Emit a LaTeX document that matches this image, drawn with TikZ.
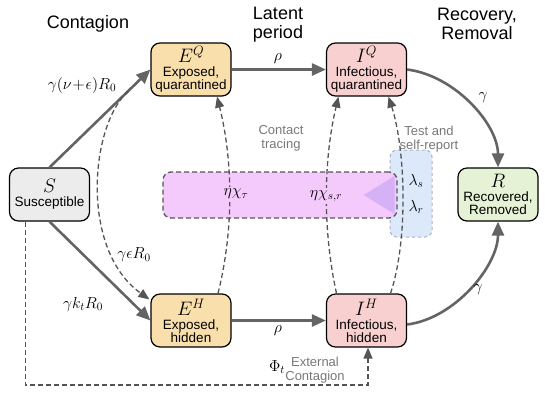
\RequirePackage{fix-cm}
\documentclass[tikz,border=0pt]{standalone}
\usepackage{fontspec}
\setmainfont{Liberation Sans}
\usetikzlibrary{arrows.meta,calc}
\definecolor{sfill}{RGB}{236,236,236}
\definecolor{efill}{RGB}{249,223,172}
\definecolor{ifill}{RGB}{248,208,208}
\definecolor{rfill}{RGB}{229,242,213}
\definecolor{ctfill}{RGB}{244,201,252}
\definecolor{trifill}{RGB}{213,177,246}
\definecolor{trfill}{RGB}{220,233,251}
\definecolor{trborder}{RGB}{170,178,190}
\definecolor{arrowgray}{RGB}{100,100,100}
\definecolor{dashgray}{RGB}{85,85,85}
\definecolor{labelgray}{RGB}{120,120,120}
\newcommand\boxmath[1]{{\fontsize{19.5}{19}\selectfont$#1$}}
\begin{document}
\begin{tikzpicture}[x=1pt,y=-1pt,
  statebox/.style={draw=black, line width=1.2pt, rounded corners=9pt,
    minimum width=80pt, minimum height=53pt, inner sep=1pt, align=center,
    font=\fontsize{13.5}{13}\selectfont},
  flow/.style={draw=arrowgray, line width=2.6pt, -{Triangle[length=14pt,width=12pt]}},
  dflow/.style={draw=dashgray, line width=1.3pt, dash pattern=on 5pt off 3pt,
    -{Triangle[length=11pt,width=9pt]}},
  title/.style={align=center, font=\fontsize{18}{19}\selectfont},
  glabel/.style={align=center, text=labelgray, font=\fontsize{13}{14.5}\selectfont},
  mlabel/.style={inner sep=1pt, font=\fontsize{16}{18}\selectfont},
]
\useasboundingbox (0,0) rectangle (545,400);

% titles
\node[title] (tC) at (88,23.5) {Contagion};
\node[title] (tL) at (278,25) {Latent\\period};
\node[title] (tR) at (477,24) {Recovery,\\Removal};

% background boxes
\node[draw=trborder, dashed, line width=1pt, fill=trfill, rounded corners=7pt,
  minimum width=42pt, minimum height=87pt, inner sep=0pt] (TR) at (411,193.5) {};
\node[draw=dashgray, line width=1.3pt, dash pattern=on 5pt off 3pt, fill=ctfill,
  rounded corners=8pt, minimum width=234pt, minimum height=46pt, inner sep=0pt] (CT) at (280,195) {};
\fill[trifill] ($(CT.east)+(-34,0)$) -- ($(CT.east)+(-3,-19)$) -- ($(CT.east)+(-3,19)$) -- cycle;

% state boxes
\node[statebox, fill=sfill] (S) at (49.5,194.5) {\boxmath{S}\\[1pt] Susceptible};
\node[statebox, fill=efill] (EQ) at (191,69.5) {\boxmath{E^{Q}}\\[1pt] Exposed,\\ quarantined};
\node[statebox, fill=ifill] (IQ) at (366.5,69.5) {\boxmath{I^{Q}}\\[1pt] Infectious,\\ quarantined};
\node[statebox, fill=efill] (EH) at (191,320.5) {\boxmath{E^{H}}\\[1pt] Exposed,\\ hidden};
\node[statebox, fill=ifill] (IH) at (366.5,320.5) {\boxmath{I^{H}}\\[1pt] Infectious,\\ hidden};
\node[statebox, fill=rfill] (R) at (498,194.5) {\boxmath{R}\\[1pt] Recovered,\\ Removed};

% solid flows
\draw[flow] (S.north) -- (EQ.west);
\draw[flow] (S.south) -- (EH.west);
\draw[flow] (EQ.east) -- (IQ.west);
\draw[flow] (EH.east) -- (IH.west);
\draw[flow] (IQ.east) .. controls +(48,6) and +(0,-43) .. (R.north);
\draw[flow] ([yshift=-4pt]IH.east) .. controls +(48,-6) and +(0,44) .. (R.south);

% dashed flows
\coordinate (qs) at ($(S.north)!0.78!(EQ.west)$);
\draw[dflow] (qs) .. controls +(-38,34) and +(-70,-50) .. ([xshift=-1pt,yshift=-6pt]EH.north west);
\draw[dflow] ([xshift=27pt]EH.north) .. controls +(16,-64) and +(16,64) .. ([xshift=26pt]EQ.south);
\draw[dflow] ([xshift=-30pt]IH.north) .. controls +(-14,-64) and +(-15,63) .. ([xshift=-28pt]IQ.south);
\draw[dflow] ([xshift=24pt]IH.north) .. controls +(18,-54) and +(17,53) .. ([xshift=22pt]IQ.south);
\coordinate (ext) at (368,385);
\draw[dflow] ([xshift=-24pt]S.south) |- (ext) -- (IH.south -| ext);

% labels
\node[mlabel] (l1) at (82,85) {$\gamma(\nu\!+\!\epsilon)R_0$};
\node[mlabel] (l2) at (134,255) {$\gamma\epsilon R_0$};
\node[mlabel] (l3) at (83,304) {$\gamma k_t R_0$};
\node[mlabel] (l4) at (278,59) {$\rho$};
\node[mlabel] (l5) at (278,331) {$\rho$};
\node[mlabel] (l6) at (483,98) {$\gamma$};
\node[mlabel] (l7) at (478,290) {$\gamma$};
\node[mlabel] (l8) at (277,367) {$\Phi_t$};
\node[mlabel, fill=ctfill, inner sep=2.5pt] (l9) at (236,194) {$\eta\chi_\tau$};
\node[mlabel, fill=ctfill, inner sep=2.5pt] (l10) at (326,196) {$\eta\chi_{s,r}$};
\node[mlabel] (l11) at (416,181) {$\lambda_s$};
\node[mlabel] (l12) at (416,207) {$\lambda_r$};
\node[glabel] (g1) at (281,138.5) {Contact\\tracing};
\node[glabel] (g2) at (429,139) {Test and\\self-report};
\node[glabel] (g3) at (315,370) {External\\Contagion};
\end{tikzpicture}
\end{document}
